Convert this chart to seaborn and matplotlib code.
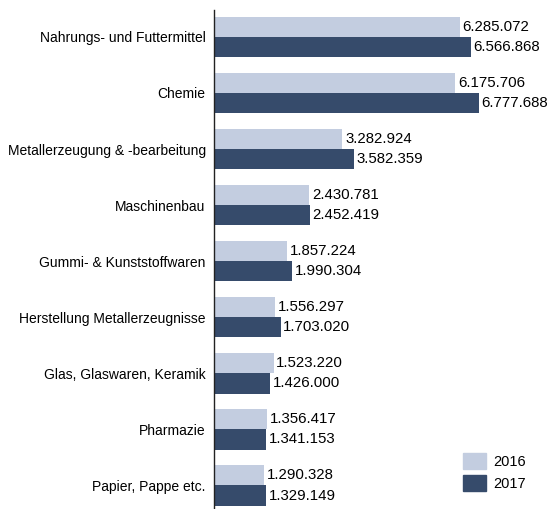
import pandas as pd
import seaborn as sns
import matplotlib.pyplot as plt

branchen = ['Nahrungs- und Futtermittel', 'Chemie', 'Metallerzeugung & -bearbeitung',
            'Maschinenbau', 'Gummi- & Kunststoffwaren', 'Herstellung Metallerzeugnisse',
            'Glas, Glaswaren, Keramik', 'Pharmazie', 'Papier, Pappe etc.']
werte_2016 = [6285072, 6175706, 3282924, 2430781, 1857224, 1556297, 1523220, 1356417, 1290328]
werte_2017 = [6566868, 6777688, 3582359, 2452419, 1990304, 1703020, 1426000, 1341153, 1329149]
jahre = ['2016', '2017']
farben = ['#c3cde0', '#364b6b']

df = pd.DataFrame({
    'Branche': branchen * 2,
    'Wert': werte_2016 + werte_2017,
    'Jahr': ['2016'] * len(branchen) + ['2017'] * len(branchen),
})

sns.set_style('white')
plt.rcParams['font.family'] = ['Liberation Sans', 'DejaVu Sans']
plt.rcParams['text.color'] = 'black'
plt.rcParams['ytick.color'] = 'black'

fig = plt.figure(figsize=(5.49, 5.09), dpi=100)
ax = fig.add_axes([214 / 549, 0, 335 / 549, 499 / 509])

sns.barplot(data=df, y='Branche', x='Wert', hue='Jahr', hue_order=jahre,
            palette=farben, orient='h', width=0.72, gap=0, saturation=1,
            linewidth=0, ax=ax, legend=False)

for cont in ax.containers:
    ax.bar_label(cont, labels=[f'{int(v.get_width()):,}'.replace(',', '.') for v in cont],
                 padding=2, fontsize=10.8, color='black')

ax.set_xlim(0, 8.57e6)
ax.set_ylim(8.42, -0.48)
ax.set_xlabel('')
ax.set_ylabel('')
ax.set_xticks([])
ax.tick_params(axis='y', length=0, labelsize=10, pad=6)
for s in ['top', 'right', 'bottom']:
    ax.spines[s].set_visible(False)
ax.spines['left'].set_color('#222222')
ax.spines['left'].set_linewidth(1)

handles = [plt.Rectangle((0, 0), 1, 1, color=c) for c in farben]
fig.legend(handles, jahre, loc='upper left', bbox_to_anchor=(450 / 549, 1 - 440 / 509),
           frameon=False, fontsize=10.5, handlelength=1.6, handleheight=1.3,
           handletextpad=0.5, labelspacing=0.4)

fig.savefig('out.png', dpi=100)
